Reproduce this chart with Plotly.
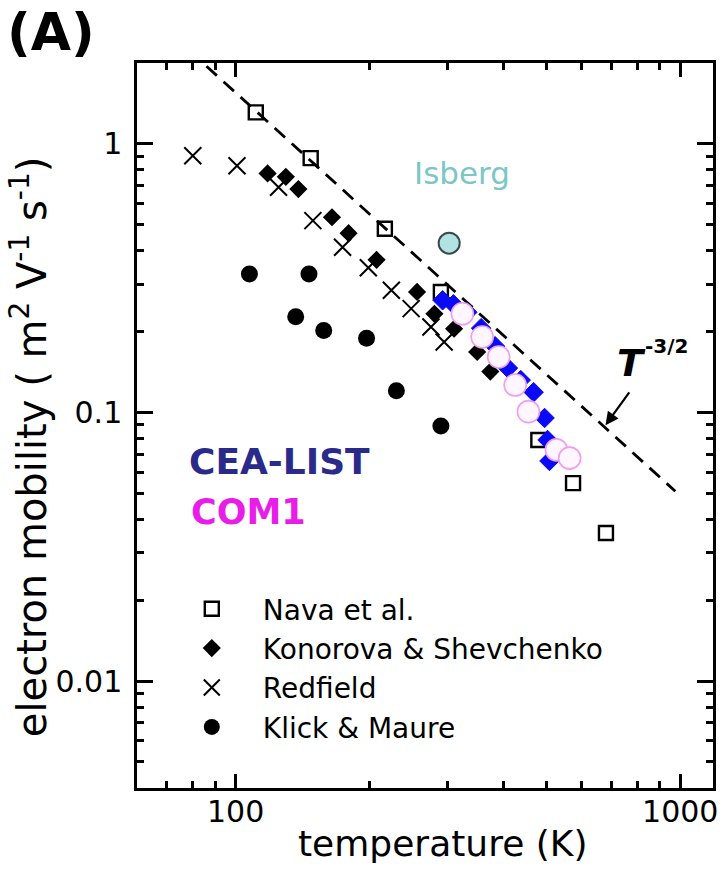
import math
import plotly.graph_objects as go

# ---- data (temperature in K, electron mobility in m^2 V^-1 s^-1) ----
nava_T = [111, 147.5, 216.6, 289.5, 479.6, 574, 680.7]
nava_mu = [1.31, 0.885, 0.483, 0.281, 0.079, 0.0546, 0.0356]

konorova_T = [118, 129.7, 138.4, 164.7, 179.5, 207.5, 255.9, 280, 310, 349.4, 374]
konorova_mu = [0.776, 0.754, 0.679, 0.533, 0.465, 0.370, 0.281, 0.233, 0.205, 0.168, 0.142]

redfield_T = [80.1, 100.7, 124.9, 149.2, 174, 198.8, 224, 248.2, 275, 294.4]
redfield_mu = [0.903, 0.829, 0.689, 0.518, 0.412, 0.346, 0.285, 0.2435, 0.208, 0.183]

klick_T = [107.4, 146.2, 136.5, 157.8, 197, 229.9, 289.5]
klick_mu = [0.328, 0.328, 0.227, 0.202, 0.189, 0.1205, 0.0891]

isberg_T = [302.2]
isberg_mu = [0.427]

cea_T = [292.1, 309, 332, 356.6, 383.3, 409.7, 437.8, 468, 495.3, 503, 508]
cea_mu = [0.2616, 0.2527, 0.236, 0.206, 0.1765, 0.1463, 0.132, 0.119, 0.0954, 0.079, 0.066]

com1_T = [323.6, 358.6, 390.6, 425.4, 455.6, 526.7, 564]
com1_mu = [0.233, 0.191, 0.161, 0.1265, 0.1007, 0.0726, 0.0676]

# T^-3/2 guide line (end points) and the point the arrow marks on it
guide_T = [86, 975]
guide_mu = [1.945, 0.0509]
arrow_T, arrow_mu = 675, 0.0884

x_ticks = [100, 1000]
y_ticks = [0.01, 0.1, 1]
x_minor = [60, 70, 80, 90] + [k * 100 for k in range(2, 10)]
y_minor = ([k * 0.001 for k in range(5, 10)] + [k * 0.01 for k in range(2, 10)]
           + [k * 0.1 for k in range(2, 10)])

FONT = "DejaVu Sans"

# ---- layout geometry (pixels) ----
W, H = 723, 882
ML, MR, MT, MB = 137, 5, 63, 94
PW, PH = W - ML - MR, H - MT - MB


def px(x):
    return (x - ML) / PW


def py(y):
    return (H - MB - y) / PH


fig = go.Figure()

fig.add_trace(go.Scatter(
    x=guide_T, y=guide_mu, mode="lines", showlegend=False,
    line=dict(color="black", width=2.8, dash="14px,9px"), hoverinfo="skip"))

fig.add_trace(go.Scatter(
    x=klick_T, y=klick_mu, mode="markers", name="Klick & Maure",
    marker=dict(symbol="circle", size=17, color="black")))

fig.add_trace(go.Scatter(
    x=redfield_T, y=redfield_mu, mode="markers", name="Redfield",
    marker=dict(symbol="x-thin-open", size=17, color="black",
                line=dict(color="black", width=2))))

fig.add_trace(go.Scatter(
    x=konorova_T, y=konorova_mu, mode="markers", name="Konorova & Shevchenko",
    marker=dict(symbol="diamond", size=14, color="black")))

fig.add_trace(go.Scatter(
    x=nava_T, y=nava_mu, mode="markers", name="Nava et al.",
    marker=dict(symbol="square-open", size=14, color="black",
                line=dict(color="black", width=2.4))))

fig.add_trace(go.Scatter(
    x=isberg_T, y=isberg_mu, mode="markers", showlegend=False,
    marker=dict(symbol="circle", size=21, color="#b3e2e2",
                line=dict(color="#3a4a4a", width=2))))

fig.add_trace(go.Scatter(
    x=cea_T, y=cea_mu, mode="markers", showlegend=False,
    marker=dict(symbol="diamond", size=15, color="#0a0af5",
                line=dict(color="#0a0af5", width=1))))

fig.add_trace(go.Scatter(
    x=com1_T, y=com1_mu, mode="markers", showlegend=False,
    marker=dict(symbol="circle", size=22, color="#fff6ff",
                line=dict(color="#f09cf0", width=1.6))))

axis_common = dict(
    type="log", showgrid=False, zeroline=False,
    showline=True, linecolor="black", linewidth=2.5, mirror="ticks",
    ticks="inside", tickcolor="black", tickwidth=2.5,
    tickfont=dict(family=FONT, size=30, color="black"),
)

fig.update_xaxes(
    **axis_common,
    range=[math.log10(60), math.log10(1185)],
    tickmode="array", tickvals=x_ticks, ticktext=[str(v) for v in x_ticks],
    ticklen=14, ticklabelstandoff=-5,
    minor=dict(ticks="inside", ticklen=7, tickwidth=2.5, tickcolor="black",
               tickmode="array", tickvals=x_minor, showgrid=False),
)
fig.update_yaxes(
    **axis_common,
    range=[math.log10(0.004), math.log10(2)],
    tickmode="array", tickvals=y_ticks, ticktext=["0.01", "0.1", "1"],
    ticklen=16, ticklabelstandoff=6,
    minor=dict(ticks="inside", ticklen=7, tickwidth=2.5, tickcolor="black",
               tickmode="array", tickvals=y_minor, showgrid=False),
)

annotations = [
    dict(text="<b>(A)</b>", x=px(4), y=py(0), xanchor="left", yanchor="top",
         font=dict(family=FONT, size=52, color="black")),
    dict(text="temperature (K)", x=px(445), y=py(866),
         font=dict(family=FONT, size=36, color="black")),
    dict(text="electron mobility ( m<sup>2</sup> V<sup>-1</sup> s<sup>-1</sup>)",
         x=px(0), y=py(447), textangle=-90,
         font=dict(family=FONT, size=40, color="black")),
    dict(text="Isberg", x=px(465), y=py(153),
         font=dict(family=FONT, size=31, color="#7cc6c6")),
    dict(text="<b>CEA-LIST</b>", x=px(187), y=py(461), xanchor="left",
         font=dict(family=FONT, size=36, color="#2a2a8a")),
    dict(text="<b>COM1</b>", x=px(189), y=py(512), xanchor="left",
         font=dict(family=FONT, size=35, color="#e81ee8")),
    dict(text="<b><i>T</i></b>", x=px(652), y=py(363),
         font=dict(family=FONT, size=38, color="black")),
    dict(text="<b>-3/2</b>", x=px(695), y=py(346),
         font=dict(family=FONT, size=20, color="black")),
]
for a in annotations:
    a.update(xref="paper", yref="paper", showarrow=False)

annotations.append(dict(
    x=math.log10(arrow_T), y=math.log10(arrow_mu), xref="x", yref="y",
    ax=26, ay=-36, axref="pixel", ayref="pixel", text="",
    showarrow=True, arrowhead=2, arrowsize=1.2, arrowwidth=2.2,
    arrowcolor="black", standoff=2))

fig.update_layout(
    width=W, height=H,
    margin=dict(l=ML, r=MR, t=MT, b=MB, pad=0),
    paper_bgcolor="white", plot_bgcolor="white",
    font=dict(family=FONT, color="black"),
    annotations=annotations,
    legend=dict(
        x=px(161), y=py(584), xanchor="left", yanchor="top",
        bgcolor="rgba(0,0,0,0)", borderwidth=0,
        font=dict(family=FONT, size=28, color="black"),
        traceorder="normal", itemsizing="trace", itemwidth=92,
    ),
)

# legend order: Nava, Konorova, Redfield, Klick
order = {"Nava et al.": 1, "Konorova & Shevchenko": 2, "Redfield": 3, "Klick & Maure": 4}
for tr in fig.data:
    if tr.name in order:
        tr.legendrank = order[tr.name]

fig.write_html("out.html")
